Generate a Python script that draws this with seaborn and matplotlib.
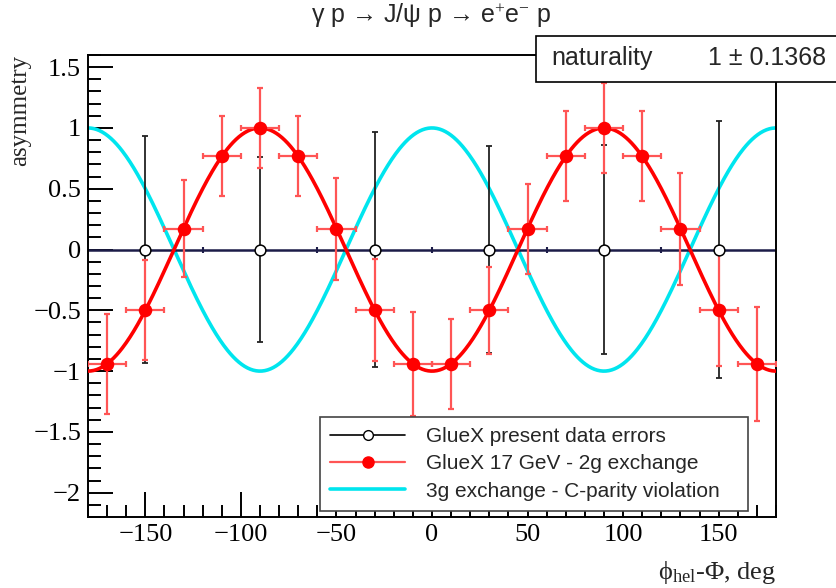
import matplotlib
matplotlib.use("Agg")
import matplotlib.pyplot as plt
from matplotlib.lines import Line2D
from matplotlib.ticker import MultipleLocator, FuncFormatter
import numpy as np
import pandas as pd
import seaborn as sns

# GlueX present data errors (open circles)
phi_now = [-150, -90, -30, 30, 90, 150]
asym_now = [0, 0, 0, 0, 0, 0]
err_now = [0.93, 0.76, 0.97, 0.85, 0.86, 1.06]

# GlueX 17 GeV projection (filled red)
phi_17 = [-170, -150, -130, -110, -90, -70, -50, -30, -10,
          10, 30, 50, 70, 90, 110, 130, 150, 170]
asym_17 = [-0.94, -0.50, 0.17, 0.77, 1.00, 0.77, 0.17, -0.50, -0.94,
           -0.94, -0.50, 0.17, 0.77, 1.00, 0.77, 0.17, -0.50, -0.94]
err_17 = [0.41, 0.41, 0.40, 0.33, 0.33, 0.33, 0.42, 0.42, 0.43,
          0.37, 0.36, 0.37, 0.37, 0.37, 0.37, 0.46, 0.46, 0.47]
xerr_17 = 10

# fitted naturality
naturality = 1.0
naturality_err = 0.1368

RED = "#ff0000"
RED_ERR = "#ff5555"
CYAN = "#00e5ee"
NAVY = "#1c1c48"

sns.set_theme(style="ticks")
plt.rcParams["font.family"] = ["Liberation Sans", "DejaVu Sans"]
plt.rcParams["mathtext.fontset"] = "custom"
plt.rcParams["mathtext.rm"] = "Liberation Serif"
plt.rcParams["mathtext.it"] = "Liberation Serif"

fig = plt.figure(figsize=(8.36, 5.88), dpi=100)
ax = fig.add_axes([88 / 836, 71 / 588, 688 / 836, 462 / 588])

# model curves
phi = np.linspace(-180, 180, 721)
curves = pd.DataFrame({
    "phi": phi,
    "two_g": -naturality * np.cos(np.radians(2 * phi)),
    "three_g": np.cos(np.radians(2 * phi)),
})
sns.lineplot(data=curves, x="phi", y="three_g", color=CYAN, lw=2.6, ax=ax)
sns.lineplot(data=curves, x="phi", y="two_g", color=RED, lw=2.6, ax=ax,
             zorder=3)

# zero line with small marks
ax.axhline(0, color=NAVY, lw=1.8, zorder=2)
ax.plot(np.arange(-120, 121, 60), np.zeros(5), ls="none", marker="|",
        ms=5, mew=1.5, color=NAVY, zorder=2)

# present data
ax.errorbar(phi_now, asym_now, yerr=err_now, fmt="none", ecolor="#222222",
            elinewidth=1.3, capsize=2.5, capthick=1.3, zorder=4)
sns.scatterplot(x=phi_now, y=asym_now, s=60, facecolor="white",
                edgecolor="black", linewidth=1.1, ax=ax, zorder=6)

# 17 GeV projection
ax.errorbar(phi_17, asym_17, yerr=err_17, xerr=xerr_17, fmt="none",
            ecolor=RED_ERR, elinewidth=1.6, capsize=2.5, capthick=1.6,
            zorder=5)
sns.scatterplot(x=phi_17, y=asym_17, s=95, color=RED, edgecolor=RED,
                linewidth=0, ax=ax, zorder=7)

ax.set_xlim(-180, 180)
ax.set_ylim(-2.2, 1.6)
ax.xaxis.set_major_locator(MultipleLocator(50))
ax.xaxis.set_minor_locator(MultipleLocator(10))
ax.yaxis.set_major_locator(MultipleLocator(0.5))
ax.yaxis.set_minor_locator(MultipleLocator(0.1))
fmt = FuncFormatter(lambda v, p: f"{v:g}".replace("-", "\u2212"))
ax.xaxis.set_major_formatter(fmt)
ax.yaxis.set_major_formatter(fmt)
ax.tick_params(which="both", direction="in", top=False, right=False,
               width=1.4, colors="black")
ax.tick_params(which="major", length=18, pad=5)
ax.tick_params(which="minor", length=9)
for lab in ax.get_xticklabels() + ax.get_yticklabels():
    lab.set_family("Liberation Serif")
    lab.set_fontsize(19)
for sp in ax.spines.values():
    sp.set_linewidth(1.4)
    sp.set_color("black")

ax.set_xlabel("")
ax.set_ylabel("")
fig.text(776 / 836, 1 - 573 / 588,
         r"$\mathregular{\phi_{hel}}$-$\mathregular{\Phi}$, deg",
         family="Liberation Serif", fontsize=19, ha="right", va="center")
fig.text(20 / 836, 1 - 55 / 588, "asymmetry", family="Liberation Serif",
         fontsize=18, rotation=90, ha="center", va="top")

fig.text(0.5155, 0.974, "γ p → J/ψ p → e$^{+}$e$^{-}$ p", ha="center",
         va="center", fontsize=18)

# stats box
fig.patches.append(plt.Rectangle((536 / 836, 1 - 82 / 588), 310 / 836,
                                 46 / 588, transform=fig.transFigure,
                                 facecolor="white", edgecolor="black",
                                 lw=1.2, zorder=10))
fig.text(551 / 836, 1 - 58 / 588, "naturality", fontsize=18, va="center",
         zorder=11)
fig.text(826 / 836, 1 - 58 / 588, f"{naturality:g} ± {naturality_err}",
         fontsize=18, va="center", ha="right", zorder=11)

handles = [
    Line2D([], [], color="black", lw=1.2, marker="o", mfc="white",
           mec="black", ms=7),
    Line2D([], [], color=RED_ERR, lw=1.6, marker="o", mfc=RED, mec=RED,
           ms=8),
    Line2D([], [], color=CYAN, lw=2.6),
]
labels = ["GlueX present data errors", "GlueX 17 GeV - 2g exchange",
          "3g exchange - C-parity violation"]
leg = ax.legend(handles, labels, loc="lower left",
                bbox_to_anchor=((320 - 88) / 688, (517 - 511) / 462,
                                (748 - 320) / 688, 86 / 462),
                mode="expand", fancybox=False, framealpha=1,
                edgecolor="#444444", fontsize=15, handlelength=3.6,
                labelspacing=0.4, borderpad=0.5, handletextpad=1.0,
                borderaxespad=0)
leg.get_frame().set_linewidth(1.2)
leg.set_zorder(20)

fig.savefig("out.png", dpi=100)
